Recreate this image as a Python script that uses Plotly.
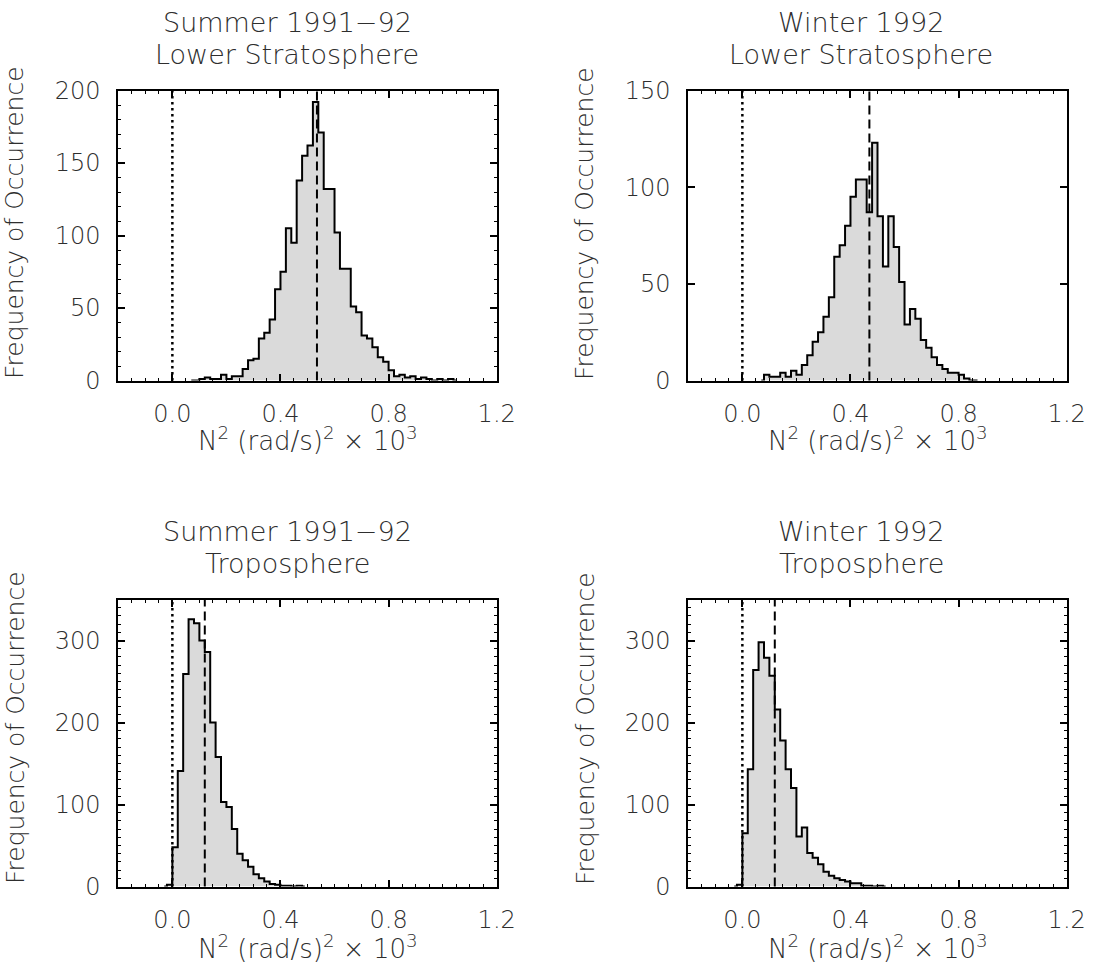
import plotly.graph_objects as go

# ---------------- data ----------------
bin_width = 0.02
x_range = [-0.2, 1.2]

title_line1 = ["Summer 1991−92", "Winter 1992", "Summer 1991−92", "Winter 1992"]
title_line2 = ["Lower Stratosphere", "Lower Stratosphere", "Troposphere", "Troposphere"]

# left edge of first bin of each panel's count list
bin_start = [0.06, 0.06, -0.04, -0.04]

summer_strat_counts = [0, 0, 1, 2, 1, 1, 4, 1, 3, 3, 8, 14, 15, 29, 33, 42, 63, 75, 105, 95,
                       138, 155, 162, 192, 171, 132, 132, 102, 77, 77, 51, 47, 31, 29, 23,
                       16, 13, 7, 3, 4, 2, 3, 1, 2, 1, 0, 1, 0, 1, 0]
winter_strat_counts = [0, 3, 2, 2, 4, 2, 5, 3, 8, 13, 20, 25, 33, 43, 64, 70, 80, 95, 104, 104,
                       87, 123, 85, 59, 85, 69, 51, 29, 37, 32, 21, 17, 12, 8, 6, 4, 4, 3, 1,
                       0, 0]
summer_trop_counts = [0, 2, 48, 141, 259, 326, 321, 300, 286, 200, 158, 103, 97, 70, 40, 32,
                      24, 15, 10, 6, 3, 2, 1, 1, 0, 1, 0]
winter_trop_counts = [0, 2, 65, 143, 264, 298, 279, 257, 216, 178, 143, 120, 61, 72, 41, 35,
                      27, 18, 13, 10, 8, 6, 4, 4, 1, 1, 0, 1, 0]
panel_counts = [summer_strat_counts, winter_strat_counts, summer_trop_counts, winter_trop_counts]

mean_values = [0.535, 0.47, 0.12, 0.12]
y_max = [200, 150, 350, 350]
y_label_step = [50, 50, 100, 100]
y_mid_ticks = [None, None, [50, 150, 250], [50, 150, 250]]   # unlabelled longer ticks
y_minor_step = [10, None, 10, 10]

x_tick_values = [0.0, 0.4, 0.8, 1.2]
x_tick_labels = ["0.0", "0.4", "0.8", "1.2"]

x_title = "N<sup>2</sup> (rad/s)<sup>2</sup> × 10<sup>3</sup>"
y_title = "Frequency of Occurrence"

# ---------------- layout geometry (pixels) ----------------
W, H = 1096, 972
box_x = [(118.3, 496.7), (688.3, 1066.7), (118.3, 496.7), (688.3, 1066.7)]
box_y = [(90.5, 380.5), (90.5, 380.5), (599.5, 886.5), (599.5, 886.5)]
title_cx = [287, 861, 287, 861]
title_y1 = [22.5, 22.5, 531.5, 531.5]
title_y2 = [54.5, 54.5, 563.5, 563.5]
xlab_y = [439, 439, 947, 947]
ylab_x = [15, 585, 15, 585]
ylab_y = [223, 223, 728, 728]

TXT = "#2e2e2e"
FONT = "DejaVu Sans"


def fx(px):
    return px / W


def fy(py):
    return 1 - py / H


def tfont(size):
    return dict(family=FONT, size=size, color=TXT, weight=200)


fig = go.Figure()
annotations = []
shapes = []
extra_axis = 5

for i in range(4):
    n = i + 1
    xa = "x" if n == 1 else f"x{n}"
    ya = "y" if n == 1 else f"y{n}"
    counts = panel_counts[i]
    centers = [bin_start[i] + bin_width * (k + 0.5) for k in range(len(counts))]
    fig.add_trace(go.Scatter(
        x=centers, y=counts, mode="lines", line=dict(shape="hvh", color="black", width=2),
        fill="tozeroy", fillcolor="#dadada", xaxis=xa, yaxis=ya, showlegend=False,
        hoverinfo="skip"))

    ydom = [fy(box_y[i][1]), fy(box_y[i][0])]
    xaxis = dict(
        domain=[fx(box_x[i][0]), fx(box_x[i][1])], range=x_range, anchor=ya,
        showline=True, linecolor="black", linewidth=2, mirror="ticks",
        ticks="inside", ticklen=7, tickwidth=1.5, tickcolor="black",
        tickmode="array", tickvals=x_tick_values, ticktext=x_tick_labels,
        showgrid=False, zeroline=False, ticklabelstandoff=11, automargin=False,
        tickfont=tfont(24),
        minor=dict(ticks="inside", ticklen=3, tickwidth=1.2, tickcolor="black",
                   tickmode="linear", tick0=0, dtick=0.05, showgrid=False),
    )
    yaxis = dict(
        domain=ydom, range=[0, y_max[i]], anchor=xa,
        showline=True, linecolor="black", linewidth=2, mirror="ticks",
        ticks="inside", ticklen=7, tickwidth=1.5, tickcolor="black",
        tickmode="linear", tick0=0, dtick=y_label_step[i],
        showgrid=False, zeroline=False, ticklabelstandoff=11, automargin=False,
        tickfont=tfont(24),
    )
    if y_minor_step[i]:
        yaxis["minor"] = dict(ticks="inside", ticklen=3, tickwidth=1.2, tickcolor="black",
                              tickmode="linear", tick0=0, dtick=y_minor_step[i], showgrid=False)
    fig.update_layout({("xaxis" if n == 1 else f"xaxis{n}"): xaxis,
                       ("yaxis" if n == 1 else f"yaxis{n}"): yaxis})

    if y_mid_ticks[i]:
        # overlay axis carrying the unlabelled intermediate major ticks
        fig.update_layout({f"yaxis{extra_axis}": dict(
            overlaying=ya, anchor=xa, side="left", range=[0, y_max[i]], domain=ydom,
            showline=False, mirror="ticks", ticks="inside", ticklen=7, tickwidth=1.5,
            tickcolor="black", tickmode="array", tickvals=y_mid_ticks[i],
            showticklabels=False, showgrid=False, zeroline=False, automargin=False)})
        extra_axis += 1

    # zero line (dotted) and mean (dashed)
    shapes.append(dict(type="line", xref=xa, yref=f"{ya} domain", x0=0, x1=0, y0=0, y1=1,
                       line=dict(color="black", width=2.5, dash="2.5px,3.5px"), layer="above"))
    shapes.append(dict(type="line", xref=xa, yref=f"{ya} domain", x0=mean_values[i],
                       x1=mean_values[i], y0=0, y1=1,
                       line=dict(color="black", width=2, dash="9px,5px"), layer="above"))

    annotations.append(dict(text=title_line1[i], x=fx(title_cx[i]), y=fy(title_y1[i]),
                            xref="paper", yref="paper", showarrow=False,
                            xanchor="center", yanchor="middle", font=tfont(27)))
    annotations.append(dict(text=title_line2[i], x=fx(title_cx[i]), y=fy(title_y2[i]),
                            xref="paper", yref="paper", showarrow=False,
                            xanchor="center", yanchor="middle", font=tfont(27)))
    annotations.append(dict(text=x_title, x=fx((box_x[i][0] + box_x[i][1]) / 2),
                            y=fy(xlab_y[i]), xref="paper", yref="paper", showarrow=False,
                            xanchor="center", yanchor="middle", font=tfont(26)))
    annotations.append(dict(text=y_title, x=fx(ylab_x[i]), y=fy(ylab_y[i]),
                            xref="paper", yref="paper", showarrow=False, textangle=-90,
                            xanchor="center", yanchor="middle", font=tfont(25)))

fig.update_layout(
    template="none",
    width=W, height=H, margin=dict(l=0, r=0, t=0, b=0, autoexpand=False),
    paper_bgcolor="white", plot_bgcolor="white",
    annotations=annotations, shapes=shapes, showlegend=False,
)

fig.write_html("out.html")
